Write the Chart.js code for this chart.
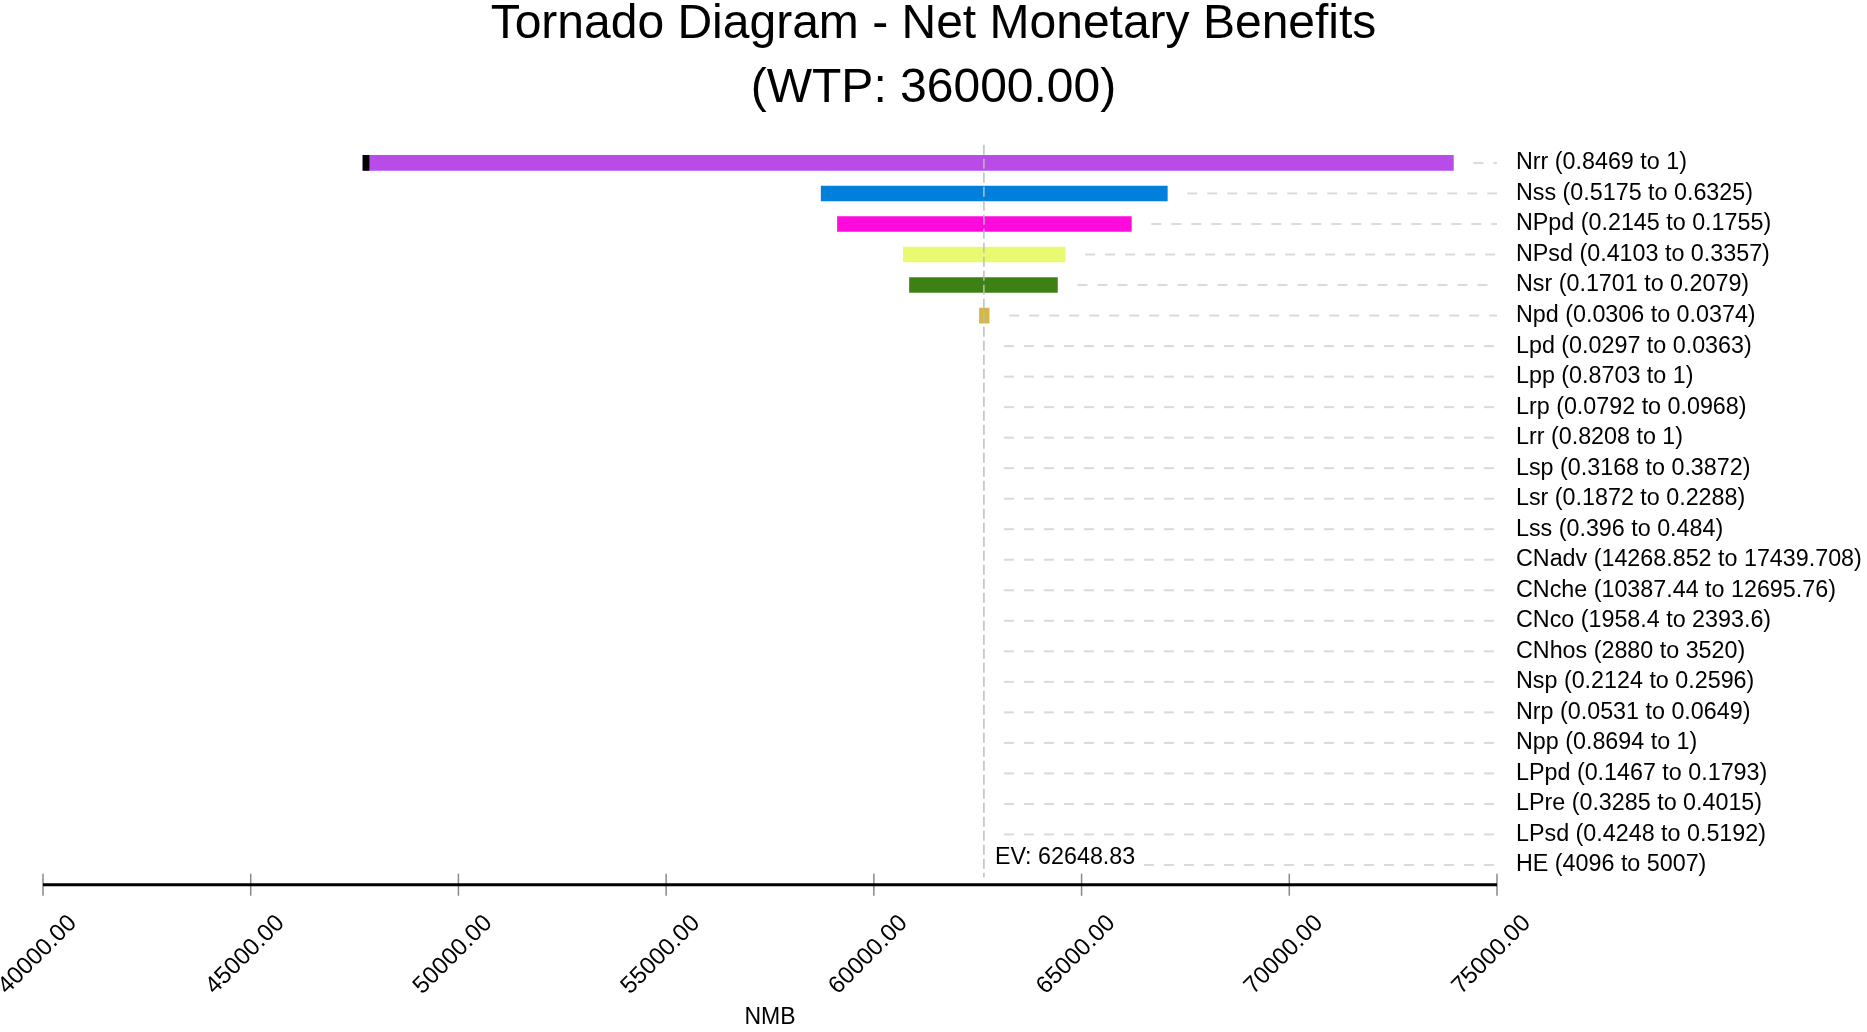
<!DOCTYPE html>
<html>
<head>
<meta charset="utf-8">
<script src="https://cdn.jsdelivr.net/npm/chart.js@4.4.1/dist/chart.umd.min.js"></script>
<style>
  html, body { margin: 0; padding: 0; background: #fff; }
  #wrap { width: 1867px; height: 1032px; }
</style>
</head>
<body>
<div id="wrap"><canvas id="tornadoChart"></canvas></div>
<script>
const rowLabels = [
    'Nrr (0.8469 to 1)', 'Nss (0.5175 to 0.6325)', 'NPpd (0.2145 to 0.1755)',
    'NPsd (0.4103 to 0.3357)', 'Nsr (0.1701 to 0.2079)', 'Npd (0.0306 to 0.0374)',
    'Lpd (0.0297 to 0.0363)', 'Lpp (0.8703 to 1)', 'Lrp (0.0792 to 0.0968)',
    'Lrr (0.8208 to 1)', 'Lsp (0.3168 to 0.3872)', 'Lsr (0.1872 to 0.2288)',
    'Lss (0.396 to 0.484)', 'CNadv (14268.852 to 17439.708)', 'CNche (10387.44 to 12695.76)',
    'CNco (1958.4 to 2393.6)', 'CNhos (2880 to 3520)', 'Nsp (0.2124 to 0.2596)',
    'Nrp (0.0531 to 0.0649)', 'Npp (0.8694 to 1)', 'LPpd (0.1467 to 0.1793)',
    'LPre (0.3285 to 0.4015)', 'LPsd (0.4248 to 0.5192)', 'HE (4096 to 5007)'
];
// NMB at the low and high end of each range (null = no visible bar)
const lowNMB  = [47702, 58732, 59124, 60711, 60858, 62541, null, null, null, null, null, null,
                 null, null, null, null, null, null, null, null, null, null, null, null];
const highNMB = [73950, 67064, 66198, 64604, 64419, 62775, null, null, null, null, null, null,
                 null, null, null, null, null, null, null, null, null, null, null, null];
const barColors = ['#b94be8', '#007fdc', '#ff0adc', '#eafa70', '#3d8115', '#d4b843'];
// small black end piece on the Nrr bar
const markLow = [47702];
const markHigh = [47849];
const expectedValue = 62648.83;
const wtp = 36000;
const xTicks = [40000, 75000, 5000];

const fontFamily = '"Liberation Sans", Arial, sans-serif';

const ranges = rowLabels.map((_, i) => lowNMB[i] === null ? null : [lowNMB[i], highNMB[i]]);
const marks = rowLabels.map((_, i) => i < markLow.length ? [markLow[i], markHigh[i]] : null);

const tornadoExtras = {
    id: 'tornadoExtras',
    beforeDatasetsDraw(chart) {
        // dashed guide lines from the bar end (or EV) to the row label
        const {ctx, chartArea} = chart;
        const x = chart.scales.x, y = chart.scales.y;
        ctx.save();
        ctx.strokeStyle = '#dadada';
        ctx.lineWidth = 2;
        ctx.setLineDash([10, 10]);
        rowLabels.forEach((_, i) => {
            const end = Math.max(highNMB[i] === null ? expectedValue : highNMB[i], expectedValue);
            const py = y.getPixelForValue(i);
            ctx.beginPath();
            ctx.moveTo(x.getPixelForValue(end) + 20, py);
            ctx.lineTo(chartArea.right, py);
            ctx.stroke();
        });
        ctx.restore();
    },
    afterDatasetsDraw(chart) {
        const {ctx, chartArea} = chart;
        const x = chart.scales.x, y = chart.scales.y;
        const evx = x.getPixelForValue(expectedValue);
        ctx.save();
        // EV line
        ctx.strokeStyle = '#bdbdbd';
        ctx.lineWidth = 1.5;
        ctx.setLineDash([10, 4]);
        ctx.beginPath();
        ctx.moveTo(evx, chartArea.top - 3);
        ctx.lineTo(evx, chartArea.bottom - 3);
        ctx.stroke();
        // EV label
        ctx.setLineDash([]);
        ctx.font = '23.3px ' + fontFamily;
        const txt = 'EV: ' + expectedValue.toFixed(2);
        const ty = y.getPixelForValue(rowLabels.length - 1) - 1;
        const w = ctx.measureText(txt).width;
        ctx.fillStyle = '#fff';
        ctx.fillRect(evx + 8, ty - 20, w + 10, 24);
        ctx.fillStyle = '#000';
        ctx.textBaseline = 'alphabetic';
        ctx.fillText(txt, evx + 11, ty);
        // x axis line with tick marks crossing it, a little below the plot area
        const axisY = chartArea.bottom + 4.5;
        ctx.strokeStyle = '#888';
        ctx.lineWidth = 1.5;
        for (let v = xTicks[0]; v <= xTicks[1]; v += xTicks[2]) {
            const px = x.getPixelForValue(v);
            ctx.beginPath();
            ctx.moveTo(px, axisY - 11);
            ctx.lineTo(px, axisY + 11);
            ctx.stroke();
        }
        ctx.strokeStyle = '#000';
        ctx.lineWidth = 3;
        ctx.beginPath();
        ctx.moveTo(chartArea.left, axisY);
        ctx.lineTo(chartArea.right, axisY);
        ctx.stroke();
        ctx.restore();
    }
};

Chart.defaults.font.family = fontFamily;
Chart.defaults.color = '#000';

const tornadoChart = new Chart(document.getElementById('tornadoChart'), {
    type: 'bar',
    data: {
        labels: rowLabels,
        datasets: [{
            data: ranges,
            backgroundColor: barColors,
            barThickness: 15,
            grouped: false,
            order: 2
        }, {
            data: marks,
            backgroundColor: '#000',
            barThickness: 15,
            grouped: false,
            order: 1
        }]
    },
    options: {
        indexAxis: 'y',
        responsive: true,
        maintainAspectRatio: false,
        animation: false,
        layout: {
            padding: {left: 0, right: 0, top: 0, bottom: 1}
        },
        plugins: {
            legend: {display: false},
            tooltip: {enabled: false},
            title: {
                display: true,
                text: ['Tornado Diagram - Net Monetary Benefits', '(WTP: ' + wtp.toFixed(2) + ')'],
                font: {size: 48, weight: 'normal', lineHeight: 1.33},
                color: '#000',
                padding: {top: -7, bottom: 27}
            }
        },
        scales: {
            x: {
                type: 'linear',
                position: 'bottom',
                min: xTicks[0],
                max: xTicks[1],
                border: {display: false},
                grid: {display: false, drawTicks: false},
                ticks: {
                    stepSize: xTicks[2],
                    minRotation: 45,
                    maxRotation: 45,
                    labelOffset: 30,
                    padding: 29,
                    font: {size: 24},
                    callback: v => Number(v).toFixed(2)
                },
                title: {
                    display: true,
                    text: 'NMB',
                    font: {size: 23},
                    padding: {top: -26, bottom: 0}
                },
                afterFit(scale) {
                    scale.paddingLeft = 43;
                    scale.paddingRight = 0;
                }
            },
            y: {
                type: 'category',
                position: 'right',
                offset: true,
                border: {display: false},
                grid: {display: false, drawTicks: false},
                ticks: {
                    font: {size: 23.3},
                    padding: 19,
                    crossAlign: 'near',
                    autoSkip: false
                },
                afterFit(scale) {
                    scale.width = 370;
                }
            }
        }
    },
    plugins: [tornadoExtras]
});
</script>
</body>
</html>
